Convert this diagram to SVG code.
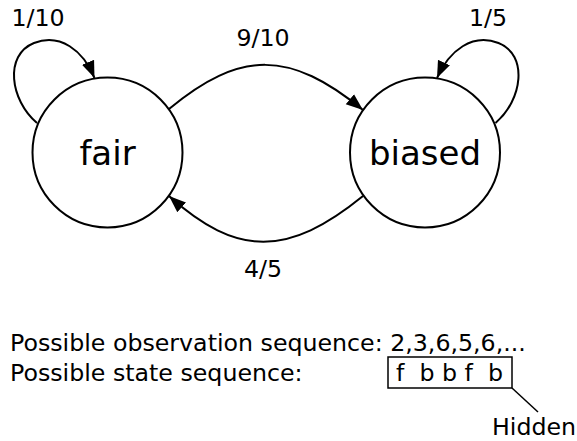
<svg xmlns="http://www.w3.org/2000/svg" width="577" height="441" viewBox="0 0 577 441">
<style>
.node{fill:#fff;stroke:#000;stroke-width:2}
.edge{fill:none;stroke:#000;stroke-width:2}
.t{font-family:"DejaVu Sans",sans-serif;font-size:23.7px;fill:#000}
.n{font-family:"DejaVu Sans",sans-serif;font-size:34px;fill:#000;text-anchor:middle}
.m{text-anchor:middle}
</style>
<defs>
<marker id="ah" markerUnits="userSpaceOnUse" markerWidth="19" markerHeight="15" refX="17" refY="6.5" orient="auto" viewBox="0 0 19 13">
<path d="M0,0 L17,6.5 L0,13 Z" fill="#000"/>
</marker>
</defs>
<rect width="577" height="441" fill="#fff"/>
<g id="fair">
<circle class="node" cx="107.5" cy="152.5" r="75"/>
<text class="n" x="107.5" y="165">fair</text>
</g>
<g id="biased">
<circle class="node" cx="425" cy="152.5" r="75"/>
<text class="n" x="425" y="165">biased</text>
</g>
<g id="connectors">
<path class="edge" marker-end="url(#ah)" d="M37,123 C10,100 4,55 34,43 C60,33 83,50 94.5,78"/>
<path class="edge" marker-end="url(#ah)" d="M495.5,123 C522.5,100 528.5,55 498.5,43 C472.5,33 449.5,50 437,78"/>
<path class="edge" marker-end="url(#ah)" d="M169,109 C240,50 290,50 363,110"/>
<path class="edge" marker-end="url(#ah)" d="M363,196 C288,257 237,257 169,196"/>
<text class="t m" x="38" y="26">1/10</text>
<text class="t m" x="488" y="26">1/5</text>
<text class="t m" x="263" y="46">9/10</text>
<text class="t m" x="263" y="277">4/5</text>
</g>
<g id="sequences">
<text class="t" x="10" y="351">Possible observation sequence: 2,3,6,5,6,...</text>
<text class="t" x="10" y="381">Possible state sequence:</text>
<rect x="388" y="357" width="124" height="31" fill="none" stroke="#000" stroke-width="1.5"/>
<text class="t" x="396" y="381" xml:space="preserve">f  b b f  b</text>
<line x1="512" y1="388" x2="538" y2="412" stroke="#000" stroke-width="1.5"/>
<text class="t" x="492" y="435">Hidden</text>
</g>
</svg>
